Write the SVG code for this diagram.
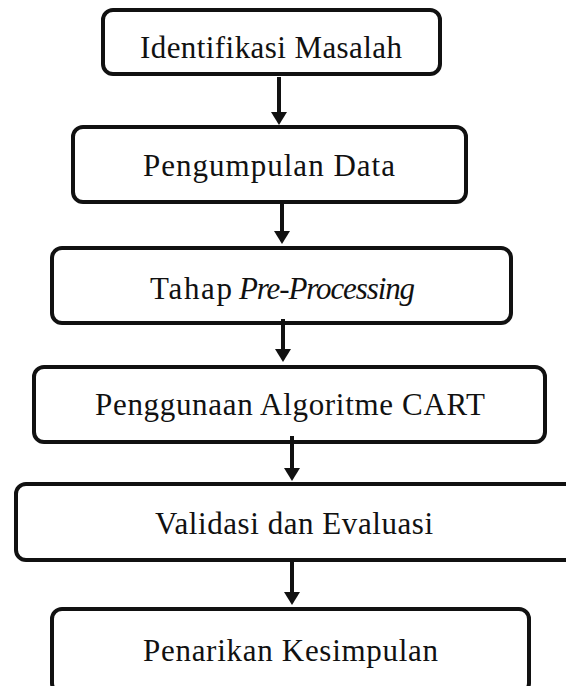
<svg xmlns="http://www.w3.org/2000/svg" width="566" height="686" viewBox="0 0 566 686">
<style>
.box{fill:#fff;stroke:#111;stroke-width:4}
.lbl{font-family:"Liberation Serif","Times New Roman",serif;font-size:31px;fill:#111}
.it{font-style:italic}
.arr{stroke:#111;stroke-width:4;fill:none}
</style>
<defs>
<marker id="ah" markerUnits="userSpaceOnUse" markerWidth="14" markerHeight="16" refX="1" refY="8" orient="auto" viewBox="0 0 14 16">
<path d="M0,0 L13,8 L0,16 z" fill="#111"/>
</marker>
</defs>
<rect width="566" height="686" fill="#fff"/>
<g id="n1"><rect class="box" x="103" y="10" width="337" height="64" rx="10"/>
<text class="lbl" x="140" y="58" textLength="262">Identifikasi Masalah</text></g>
<g id="n2"><rect class="box" x="73" y="127" width="393" height="75" rx="10"/>
<text class="lbl" x="143" y="176" textLength="252">Pengumpulan Data</text></g>
<g id="n3"><rect class="box" x="52" y="248" width="459" height="75" rx="10"/>
<text class="lbl" x="150" y="299"><tspan textLength="82">Tahap</tspan><tspan class="it" x="239" textLength="176">Pre-Processing</tspan></text></g>
<g id="n4"><rect class="box" x="34" y="367" width="511" height="75" rx="10"/>
<text class="lbl" x="95" y="415" textLength="390">Penggunaan Algoritme CART</text></g>
<g id="n5"><rect class="box" x="16" y="484" width="560" height="76" rx="10"/>
<text class="lbl" x="155" y="534" textLength="278">Validasi dan Evaluasi</text></g>
<g id="n6"><rect class="box" x="52" y="609" width="477" height="84" rx="10"/>
<text class="lbl" x="143" y="661" textLength="295">Penarikan Kesimpulan</text></g>
<g id="connectors">
<line class="arr" x1="279" y1="77" x2="279" y2="113" marker-end="url(#ah)"/>
<line class="arr" x1="282" y1="200" x2="282" y2="232" marker-end="url(#ah)"/>
<line class="arr" x1="283" y1="319" x2="283" y2="350" marker-end="url(#ah)"/>
<line class="arr" x1="292" y1="436" x2="292" y2="469" marker-end="url(#ah)"/>
<line class="arr" x1="292" y1="560" x2="292" y2="593" marker-end="url(#ah)"/>
</g>
</svg>
